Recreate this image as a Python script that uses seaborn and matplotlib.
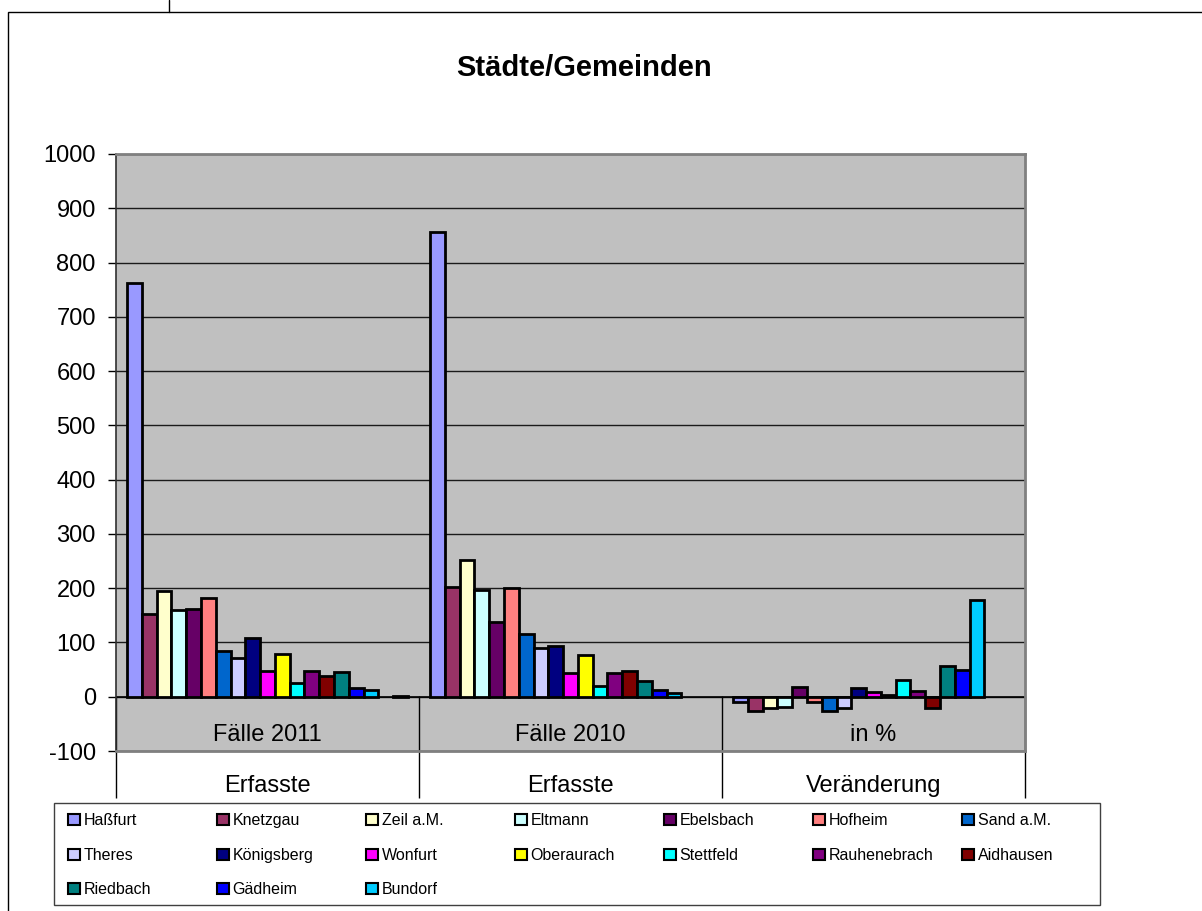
import numpy as np
import pandas as pd
import matplotlib
matplotlib.use("Agg")
import matplotlib.pyplot as plt
from matplotlib.patches import Patch, Rectangle
from matplotlib.lines import Line2D
import seaborn as sns

# ---------------- data ----------------
categories = ["Fälle 2011", "Fälle 2010", "in %"]
category_groups = ["Erfasste", "Erfasste", "Veränderung"]

names = ["Haßfurt", "Knetzgau", "Zeil a.M.", "Eltmann", "Ebelsbach", "Hofheim",
         "Sand a.M.", "Theres", "Königsberg", "Wonfurt", "Oberaurach", "Stettfeld",
         "Rauhenebrach", "Aidhausen", "Riedbach", "Gädheim", "Bundorf"]
faelle_2011 = [762, 153, 194, 159, 161, 182, 85, 71, 109, 48, 79, 26, 48, 38, 46, 17, 13]
faelle_2010 = [857, 203, 252, 196, 137, 201, 116, 89, 94, 44, 77, 20, 44, 47, 29, 12, 6]
veraenderung = [-10, -26, -21, -19, 18, -9, -27, -20, 16, 9, 3, 31, 10, -20, 57, 50, 178]

# two further series present in the chart but without legend entries
hidden_names = ["_reihe18", "_reihe19"]
hidden_values = [[np.nan, np.nan, np.nan], [2, np.nan, np.nan]]

colors = ["#9999FF", "#993366", "#FFFFCC", "#CCFFFF", "#660066", "#FF8080",
          "#0066CC", "#CCCCFF", "#000080", "#FF00FF", "#FFFF00", "#00FFFF",
          "#800080", "#800000", "#008080", "#0000FF", "#00CCFF"]
hidden_colors = ["#CCFFFF", "#CCFFCC"]

yticks = list(range(-100, 1001, 100))

# legend layout: 7 columns, filled row by row
legend_cols = 7

# ---------------- table ----------------
rows = []
for i, n in enumerate(names):
    for c, v in zip(categories, [faelle_2011[i], faelle_2010[i], veraenderung[i]]):
        rows.append({"Kategorie": c, "Gemeinde": n, "Wert": v})
for n, vals in zip(hidden_names, hidden_values):
    for c, v in zip(categories, vals):
        rows.append({"Kategorie": c, "Gemeinde": n, "Wert": v})
df = pd.DataFrame(rows)
hue_order = names + hidden_names
palette = colors + hidden_colors

# ---------------- style ----------------
sns.set_theme(style="white")
plt.rcParams["font.family"] = ["Liberation Sans", "DejaVu Sans"]
plt.rcParams["axes.unicode_minus"] = False
plt.rcParams["text.color"] = "black"
plt.rcParams["xtick.color"] = "black"
plt.rcParams["ytick.color"] = "black"
plt.rcParams["xtick.labelcolor"] = "black"
plt.rcParams["ytick.labelcolor"] = "black"

W, H = 1202, 911
fig = plt.figure(figsize=(W / 100, H / 100), dpi=100)
fig.patch.set_facecolor("white")

ax = fig.add_axes([116 / W, (H - 751) / H, (1025 - 116) / W, (751 - 154) / H])
ax.set_facecolor("#C0C0C0")

sns.barplot(data=df, x="Kategorie", y="Wert", hue="Gemeinde",
            order=categories, hue_order=hue_order, palette=palette,
            saturation=1, errorbar=None, width=0.928, edgecolor="black",
            linewidth=2.0, legend=False, ax=ax, zorder=3)

ax.set_xlim(-0.5, 2.5)
ax.set_ylim(-100, 1000)
ax.set_yticks(yticks)
ax.set_xlabel("")
ax.set_ylabel("")
ax.set_axisbelow(True)
ax.yaxis.grid(True, color="#1a1a1a", linewidth=1.0)
ax.xaxis.grid(False)
ax.axhline(0, color="black", linewidth=1.2, zorder=2.5)

for s in ["top", "right", "bottom"]:
    ax.spines[s].set_color("#808080")
    ax.spines[s].set_linewidth(2)
ax.spines["left"].set_color("#303030")
ax.spines["left"].set_linewidth(1.2)

ax.tick_params(axis="y", which="major", direction="out", length=6, width=1,
               color="black", labelsize=17, pad=8.5, left=True)

# first level category labels (inside the plot area, under the zero line)
ax.set_xticks([0, 1, 2], labels=categories)
ax.set_xticks([-0.5, 0.5, 1.5, 2.5], minor=True)
ax.tick_params(axis="x", which="major", length=0, labelsize=17, pad=-19.5)
ax.tick_params(axis="x", which="minor", direction="in", length=39.6, width=1,
               color="black", bottom=True)

# second level category labels
sec = ax.secondary_xaxis("bottom")
sec.set_xticks([0, 1, 2], labels=category_groups)
sec.set_xticks([-0.5, 0.5, 1.5, 2.5], minor=True)
sec.tick_params(axis="x", which="major", length=0, labelsize=17, pad=17)
sec.tick_params(axis="x", which="minor", direction="out", length=34, width=1,
                color="black")
sec.spines["bottom"].set_visible(False)

# title
fig.text(584 / W, 1 - 68 / H, "Städte/Gemeinden", ha="center", va="center",
         fontsize=21, fontweight="bold", color="black")

# legend: one legend per column so the columns sit at equal spacing
leg_left, leg_right, leg_top, leg_bottom = 54, 1100, 803, 905
col_x0 = 62
col_pitch = (963 - 69) / 6
for j in range(legend_cols):
    idx = list(range(j, len(names), legend_cols))
    handles = [Patch(facecolor=colors[i], edgecolor="black", linewidth=1.5) for i in idx]
    labels = [names[i] for i in idx]
    fig.legend(handles, labels, loc="upper left",
               bbox_to_anchor=((col_x0 + j * col_pitch) / W, 1 - (leg_top + 4) / H),
               fontsize=11.5, frameon=False, handlelength=0.7, handleheight=0.7,
               handletextpad=0.25, labelspacing=1.22, borderpad=0.4,
               borderaxespad=0)
fig.add_artist(Rectangle((leg_left / W, 1 - leg_bottom / H),
                         (leg_right - leg_left) / W, (leg_bottom - leg_top) / H,
                         transform=fig.transFigure, fill=False,
                         edgecolor="#404040", linewidth=1.0))

# outer chart border and the cell line above it
fig.add_artist(Rectangle((8 / W, -0.05), 1.2, (H - 12) / H + 0.05,
                         transform=fig.transFigure, fill=False,
                         edgecolor="black", linewidth=1.0))
fig.add_artist(Line2D([169 / W, 169 / W], [1 - 12 / H, 1.0],
                      transform=fig.transFigure, color="black", linewidth=1.0))

fig.savefig("out.png", dpi=100)
